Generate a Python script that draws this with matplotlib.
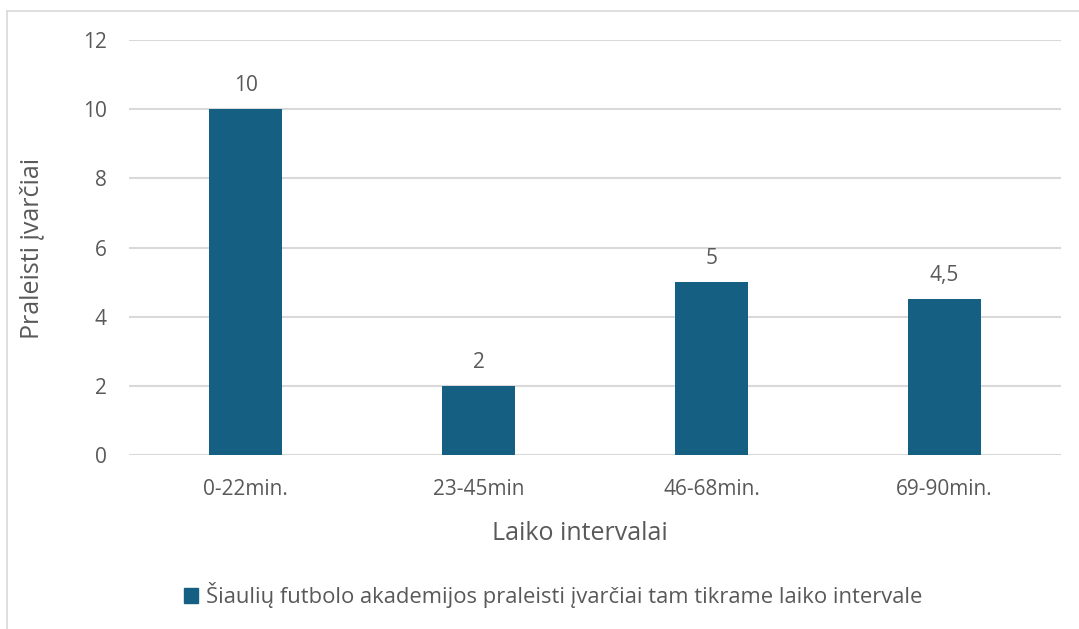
import matplotlib
matplotlib.use("Agg")
import matplotlib.pyplot as plt
from matplotlib.lines import Line2D
from matplotlib.patches import Patch

categories = ["0-22min.", "23-45min", "46-68min.", "69-90min."]
values = [10, 2, 5, 4.5]
value_labels = ["10", "2", "5", "4,5"]
y_ticks = [0, 2, 4, 6, 8, 10, 12]
series_name = "Šiaulių futbolo akademijos praleisti įvarčiai tam tikrame laiko intervale"

bar_color = "#156082"
text_color = "#595959"
grid_color = "#d9d9d9"

plt.rcParams["font.family"] = ["Open Sans", "DejaVu Sans"]

W, H = 1079, 629
fig = plt.figure(figsize=(W / 100, H / 100), dpi=100)
ax = fig.add_axes([129 / W, 1 - 455 / H, 932 / W, 415 / H])

x = range(len(categories))
ax.bar(x, values, width=0.31, color=bar_color, zorder=3)
for xi, v, lab in zip(x, values, value_labels):
    ax.annotate(lab, (xi, v), xytext=(0, 9.5), textcoords="offset points",
                ha="center", va="bottom", fontsize=15, color=text_color)

ax.set_xlim(-0.5, len(categories) - 0.5)
ax.set_ylim(0, 12)
ax.set_yticks(y_ticks)
ax.set_yticklabels([str(t) for t in y_ticks])
ax.set_xticks(list(x))
ax.set_xticklabels(categories)
ax.tick_params(axis="both", length=0, labelsize=15, labelcolor=text_color)
ax.tick_params(axis="y", pad=16)
ax.tick_params(axis="x", pad=17)
ax.yaxis.grid(True, color=grid_color, linewidth=1.5, zorder=0)
for s in ax.spines.values():
    s.set_visible(False)

ax.set_xlabel("Laiko intervalai", fontsize=18, color=text_color, va="center")
ax.xaxis.set_label_coords((580 - 129) / 932, (455 - 534) / 415)
ax.set_ylabel("Praleisti įvarčiai", fontsize=18, color=text_color, va="center")
ax.yaxis.set_label_coords((32 - 129) / 932, (455 - 248) / 415)

leg = fig.legend(handles=[Patch(color=bar_color, label=series_name)],
                 loc="center", bbox_to_anchor=(553 / W, 1 - 595 / H),
                 frameon=False, fontsize=15.8, handlelength=0.65, handleheight=0.65,
                 handletextpad=0.35, labelcolor=text_color)

# outer chart frame (top and left edges)
fig.add_artist(Line2D([7 / W, 1.0], [1 - 11 / H] * 2, color=grid_color, linewidth=1.2,
                      transform=fig.transFigure))
fig.add_artist(Line2D([7 / W] * 2, [0.0, 1 - 11 / H], color=grid_color, linewidth=1.2,
                      transform=fig.transFigure))

fig.savefig("out.png", dpi=100, facecolor="white")
